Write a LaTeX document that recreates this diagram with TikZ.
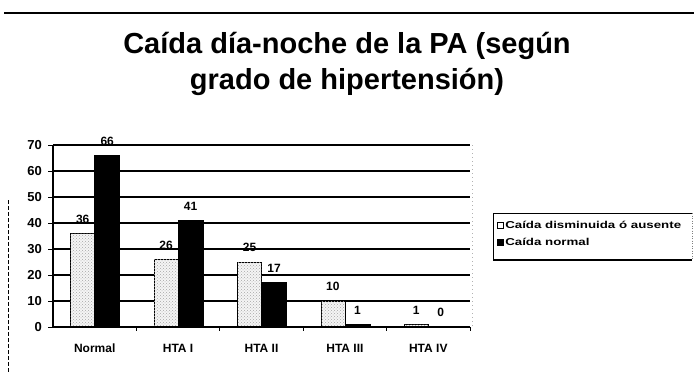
\documentclass[tikz,border=0pt]{standalone}
\usepackage{fontspec}
\setmainfont{Liberation Sans}
\usetikzlibrary{patterns}
\begin{document}
\begin{tikzpicture}[x=1pt,y=-1pt,
  grid/.style={black,line width=1.3pt},
  lightbar/.style={draw=black,line width=0.8pt,fill=gray!8,postaction={pattern=crosshatch dots,pattern color=gray!70}},
  darkbar/.style={draw=black,line width=0.8pt,fill=black},
  ticklab/.style={font=\fontsize{13}{13}\selectfont\bfseries,anchor=east,inner sep=0pt},
  catlab/.style={font=\fontsize{12}{12}\selectfont\bfseries,anchor=center,inner sep=0pt},
  vallab/.style={font=\fontsize{12}{12}\selectfont\bfseries,anchor=south,inner sep=0pt},
  legtext/.style={font=\fontsize{10}{10}\selectfont\bfseries,anchor=west,inner sep=0pt,xscale=1.33}]
\useasboundingbox (0,0) rectangle (694,372);
\fill[white] (0,0) rectangle (694,372);
% top rule and left dashed rule
\coordinate (tl) at (4,13);
\coordinate (tr) at (694,13);
\draw[line width=1.3pt] (tl) -- (tr);
\coordinate (ld1) at (8,200);
\coordinate (ld2) at (8,372);
\draw[line width=0.8pt,dash pattern=on 4pt off 2pt] (ld1) -- (ld2);
% title
\node[font=\fontsize{29}{36}\selectfont\bfseries,anchor=base] (title1) at (347,53) {Caída día-noche de la PA (según};
\node[font=\fontsize{29}{36}\selectfont\bfseries,anchor=base] (title2) at (347,89) {grado de hipertensión)};
% gridlines and y ticks
\foreach \v in {10,20,...,70}{
  \coordinate (gl\v) at (53,{327-2.6*\v});
  \coordinate (gr\v) at (470,{327-2.6*\v});
  \draw[grid] (gl\v) -- (gr\v);
}
\foreach \v in {0,10,...,70}{
  \coordinate (tk\v) at (48,{327-2.6*\v});
  \coordinate (ax\v) at (53,{327-2.6*\v});
  \draw[line width=1pt] (tk\v) -- (ax\v);
  \node[ticklab] (yl\v) at (42,{327-2.6*\v}) {\v};
}
% right border (faint)
\coordinate (rb1) at (472,145);
\coordinate (rb2) at (472,327);
\draw[gray!60,line width=0.5pt,dash pattern=on 1pt off 3pt] (rb1) -- (rb2);
% bars
\foreach \i/\a/\b/\name in {0/36/66/Normal,1/26/41/HTA I,2/25/17/HTA II,3/10/1/HTA III,4/1/0/HTA IV}{
  \pgfmathsetmacro{\c}{53+83.4*(\i+0.5)}
  \pgfmathsetmacro{\ya}{327-2.6*\a}
  \pgfmathsetmacro{\yb}{327-2.6*\b}
  \draw[lightbar] (\c-24,327) rectangle (\c,\ya);
  \ifnum\b>0
    \draw[darkbar] (\c,327) rectangle (\c+25,\yb);
  \fi
  \node[vallab] (va\i) at (\c-12,\ya-10) {\a};
  \node[vallab] (vb\i) at (\c+12.5,\yb-10) {\b};
  \node[catlab] (cat\i) at (\c,348) {\name};
}
% axes
\coordinate (o) at (53,327);
\coordinate (xe) at (470,327);
\coordinate (ye) at (53,145);
\draw[line width=1.3pt] (ye) -- (o) -- (xe);
\foreach \k in {1,...,5}{
  \coordinate (xt\k) at ({53+83.4*\k},327);
  \coordinate (xb\k) at ({53+83.4*\k},331);
  \draw[line width=1pt] (xt\k) -- (xb\k);
}
% legend
\coordinate (lg1) at (493,213);
\coordinate (lg2) at (692,213);
\coordinate (lg3) at (692,260);
\coordinate (lg4) at (493,260);
\draw[line width=0.8pt] (lg4) -- (lg1) -- (lg2);
\draw[line width=0.5pt,gray,dash pattern=on 1pt off 1.5pt] (lg2) -- (lg3);
\draw[line width=1.3pt] (lg4) -- (lg3);
\node[draw=black,line width=0.8pt,fill=white,minimum size=6pt,inner sep=0pt] (m1) at (500,225) {};
\node[draw=black,line width=0.8pt,fill=black,minimum size=6pt,inner sep=0pt] (m2) at (500,242) {};
\node[legtext] (t1) at (505,225) {Caída disminuida ó ausente};
\node[legtext] (t2) at (505,242) {Caída normal};
\end{tikzpicture}
\end{document}
